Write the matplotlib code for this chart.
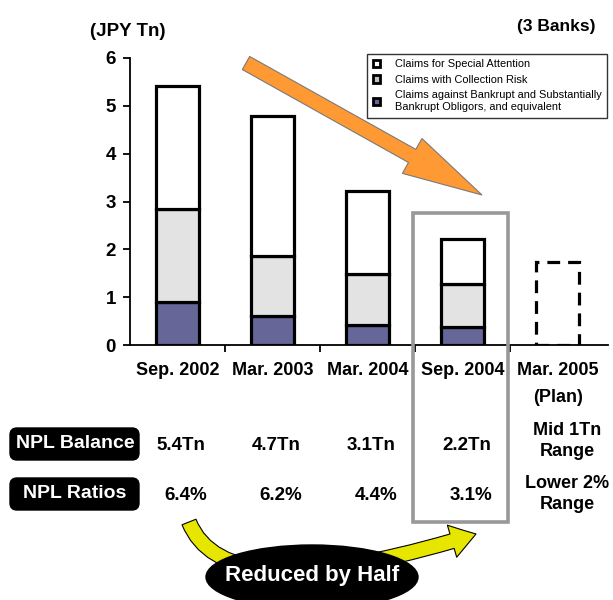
import matplotlib
matplotlib.use("Agg")
import matplotlib.pyplot as plt
import matplotlib.patches as mpatches
from matplotlib.path import Path
from matplotlib.transforms import blended_transform_factory
import numpy as np

plt.rcParams['font.family'] = ['Liberation Sans', 'DejaVu Sans']

# ---- data ----
categories = ["Sep. 2002", "Mar. 2003", "Mar. 2004", "Sep. 2004", "Mar. 2005\n(Plan)"]
bankrupt = [0.90, 0.60, 0.42, 0.38]
collection_risk = [1.95, 1.27, 1.06, 0.89]
special_attention = [2.57, 2.91, 1.74, 0.95]
plan_total = 1.73
series_labels = ["Claims for Special Attention",
                 "Claims with Collection Risk",
                 "Claims against Bankrupt and Substantially\nBankrupt Obligors, and equivalent"]
npl_balance = ["5.4Tn", "4.7Tn", "3.1Tn", "2.2Tn", "Mid 1Tn\nRange"]
npl_ratios = ["6.4%", "6.2%", "4.4%", "3.1%", "Lower 2%\nRange"]
yticks = [0, 1, 2, 3, 4, 5, 6]

W, H = 613, 600
fig = plt.figure(figsize=(W / 100, H / 100), dpi=100)

# main axes in pixel geometry
left, right, top, bottom = 130, 608, 58, 345
ax = fig.add_axes([left / W, 1 - bottom / H, (right - left) / W, (bottom - top) / H])

x = np.arange(4)
bw = 0.46
ec = 'black'
lw = 2.3
ax.bar(x, bankrupt, bw, color='#666699', edgecolor=ec, linewidth=lw, zorder=3)
b1 = np.array(bankrupt)
ax.bar(x, collection_risk, bw, bottom=b1, color='#E3E3E3', edgecolor=ec, linewidth=lw, zorder=3)
b2 = b1 + np.array(collection_risk)
ax.bar(x, special_attention, bw, bottom=b2, color='white', edgecolor=ec, linewidth=lw, zorder=3)
ax.bar([4], [plan_total], bw, color='none', edgecolor=ec, linewidth=lw,
       linestyle=(0, (4, 2.5)), zorder=3)

ax.set_xlim(-0.5, 4.53)
ax.set_ylim(0, 6)
ax.set_yticks(yticks)
ax.set_yticklabels([str(v) for v in yticks], fontsize=13.5, fontweight='bold')
ax.set_xticks([0.5, 1.5, 2.5, 3.5])
ax.set_xticklabels([])
ax.set_xticks(np.arange(5), minor=True)
ax.set_xticklabels(categories, minor=True, fontsize=13, fontweight='bold')
for t in ax.get_xticklabels(minor=True):
    t.set_linespacing(1.75)
ax.tick_params(axis='x', which='minor', length=0, pad=12.5)
ax.tick_params(axis='x', which='major', length=5, width=1.3, direction='out')
ax.tick_params(axis='y', length=5, width=1.3, direction='out', pad=5)
for s in ['top', 'right']:
    ax.spines[s].set_visible(False)
for s in ['left', 'bottom']:
    ax.spines[s].set_linewidth(1.3)

# legend
handles = [mpatches.Patch(facecolor=c, edgecolor='black', linewidth=2.0)
           for c in ['white', '#C0C0C0', '#666699']]
leg = ax.legend(handles, series_labels, loc='upper right',
                bbox_to_anchor=(607 / W, 1 - 54 / H), bbox_transform=fig.transFigure,
                fontsize=7.9, frameon=True, fancybox=False, edgecolor='black',
                handlelength=0.7, handleheight=0.7, handletextpad=1.3,
                labelspacing=0.5, borderpad=0.5, borderaxespad=0)
leg.get_frame().set_linewidth(1.0)
leg.set_zorder(5)

# overlay axes in pixel coords
ov = fig.add_axes([0, 0, 1, 1], zorder=4)
ov.set_xlim(0, W)
ov.set_ylim(H, 0)
ov.axis('off')
ov.patch.set_alpha(0)

ov.text(128, 31, "(JPY Tn)", ha='center', va='center', fontsize=13.5, fontweight='bold')
ov.text(556, 27, "(3 Banks)", ha='center', va='center', fontsize=12.5, fontweight='bold')

# orange arrow
ov.add_patch(mpatches.FancyArrow(246, 63, 482 - 246, 195 - 63, width=15, head_width=40,
                                 head_length=80, length_includes_head=True,
                                 facecolor='#FF9933', edgecolor='#7a7a7a', linewidth=0.8,
                                 zorder=2))

# gray highlight box
ov.add_patch(mpatches.Rectangle((413, 213), 95, 309, fill=False, edgecolor='#999999',
                                linewidth=2.6, zorder=3))

# row labels in rounded black boxes
for label, y0 in [("NPL Balance", 428), ("NPL Ratios", 478)]:
    ov.add_patch(mpatches.FancyBboxPatch((14, y0 + 4), 121, 24,
                                         boxstyle='round,pad=4,rounding_size=7',
                                         facecolor='black', edgecolor='black', zorder=3))
    ov.text(75, y0 + 16, label, ha='center', va='center', color='white', fontsize=14,
            fontweight='bold', zorder=4)

tr = blended_transform_factory(ax.transData, ov.transData)
for i, (b, r) in enumerate(zip(npl_balance, npl_ratios)):
    xo = i + 0.04
    if i < 4:
        ov.text(xo, 445, b, transform=tr, ha='center', va='center', fontsize=13.5, fontweight='bold')
        ov.text(xo + 0.05, 496, r, transform=tr, ha='center', va='center', fontsize=13.5, fontweight='bold')
    else:
        ov.text(xo + 0.06, 441, b, transform=tr, ha='center', va='center', fontsize=13,
                fontweight='bold', linespacing=1.35)
        ov.text(xo + 0.06, 494, r, transform=tr, ha='center', va='center', fontsize=13,
                fontweight='bold', linespacing=1.35)

# yellow curved arrow
verts = [(189, 522), (225, 612), (476, 534)]
codes = [Path.MOVETO, Path.CURVE3, Path.CURVE3]
arr = mpatches.FancyArrowPatch(path=Path(verts, codes),
                               arrowstyle='simple,tail_width=0.9,head_width=2.0,head_length=1.5',
                               mutation_scale=12, facecolor='#E6E600', edgecolor='black',
                               linewidth=0.8, zorder=4)
ov.add_patch(arr)

# ellipse with text
ov.add_patch(mpatches.Ellipse((312, 577), 212, 64, facecolor='black', edgecolor='black', zorder=5))
ov.text(312, 575, "Reduced by Half", ha='center', va='center', color='white', fontsize=16,
        fontweight='bold', zorder=6)

fig.savefig("out.png", dpi=100)
